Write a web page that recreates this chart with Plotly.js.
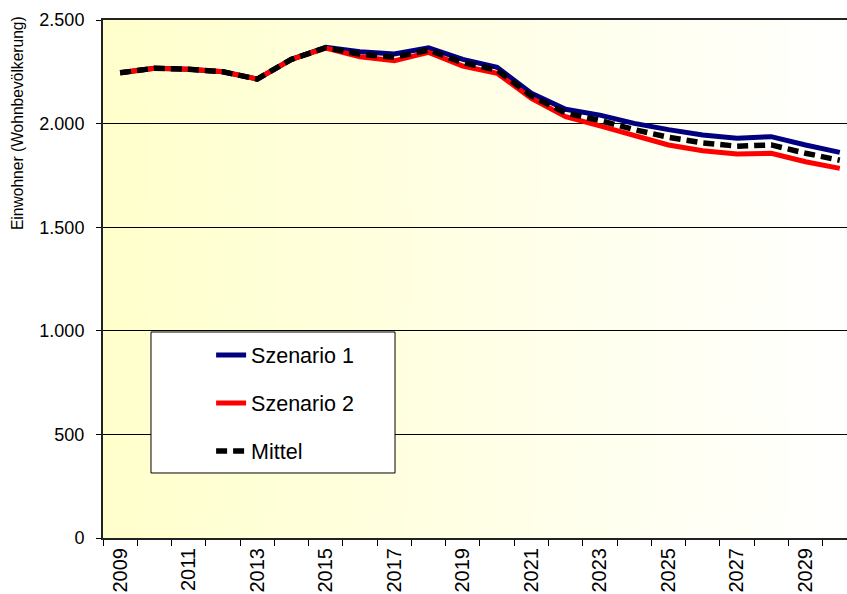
<!DOCTYPE html>
<html>
<head>
<meta charset="utf-8">
<script src="https://cdn.plot.ly/plotly-3.0.1.min.js"></script>
<style>
  html, body { margin: 0; padding: 0; background: #fff; }
  #chart { width: 847px; height: 594px; }
</style>
</head>
<body>
<div id="chart"></div>
<script>
// Einwohnerprognose 2009–2030
const years = [2009, 2010, 2011, 2012, 2013, 2014, 2015, 2016, 2017, 2018, 2019,
               2020, 2021, 2022, 2023, 2024, 2025, 2026, 2027, 2028, 2029, 2030];
const szenario1 = [2245, 2267, 2262, 2250, 2215, 2310, 2368, 2347, 2336, 2366, 2310,
                   2272, 2146, 2069, 2041, 2001, 1971, 1945, 1929, 1937, 1897, 1861];
const szenario2 = [2245, 2267, 2262, 2250, 2215, 2310, 2364, 2323, 2303, 2344, 2278,
                   2243, 2122, 2033, 1989, 1941, 1897, 1869, 1853, 1857, 1816, 1784];
const mittel    = [2245, 2267, 2262, 2250, 2215, 2310, 2366, 2335, 2320, 2355, 2294,
                   2258, 2134, 2051, 2015, 1971, 1934, 1907, 1891, 1897, 1857, 1823];

const xLabelYears = [2009, 2011, 2013, 2015, 2017, 2019, 2021, 2023, 2025, 2027, 2029];
const xLabelText  = ['2009', '2011', '2013', '2015', '2017', '2019', '2021', '2023', '2025', '2027', '2029'];
const yTickVals   = [0, 500, 1000, 1500, 2000, 2500];
const yTickText   = ['0', '500', '1.000', '1.500', '2.000', '2.500'];

const FONT = 'Arial, "Liberation Sans", sans-serif';

// horizontal pale-yellow to white wash for the plot area
function gradientURI() {
  const c = document.createElement('canvas');
  c.width = 400; c.height = 10;
  const g = c.getContext('2d');
  const grd = g.createLinearGradient(0, 0, 400, 0);
  grd.addColorStop(0, 'rgb(255,255,204)');
  grd.addColorStop(1, 'rgb(255,255,255)');
  g.fillStyle = grd;
  g.fillRect(0, 0, 400, 10);
  return c.toDataURL('image/png');
}

const traces = [
  { x: years, y: szenario1, name: 'Szenario 1', mode: 'lines', legendgroup: 'a',
    line: { color: '#000080', width: 5 } },
  { x: years, y: szenario2, name: 'Szenario 2', mode: 'lines', legendgroup: 'b',
    line: { color: '#FF0000', width: 5 } },
  { x: years, y: mittel, name: 'Mittel', mode: 'lines', legendgroup: 'c',
    line: { color: '#000000', width: 5.5, dash: '11px,6px' } }
];

const layout = {
  width: 847, height: 594,
  margin: { l: 103, r: 0, t: 20, b: 56, pad: 0 },
  paper_bgcolor: '#ffffff',
  plot_bgcolor: 'rgba(0,0,0,0)',
  font: { family: FONT, color: '#000', size: 18 },
  showlegend: true,
  legend: {
    x: 0.1453, y: 0.3927, xanchor: 'left', yanchor: 'top',
    bgcolor: 'rgba(0,0,0,0)', borderwidth: 0,
    font: { family: FONT, size: 21.5, color: '#000' },
    tracegroupgap: 17, traceorder: 'grouped'
  },
  xaxis: {
    type: 'linear',
    range: [2008.5, 2030.21],
    tickmode: 'array', tickvals: xLabelYears, ticktext: xLabelText,
    ticks: '', tickangle: -90,
    tickfont: { family: FONT, size: 20, color: '#000' },
    minor: { tickmode: 'linear', tick0: 2008.5, dtick: 1, ticks: 'outside',
             ticklen: 6, tickwidth: 1, tickcolor: '#000', showgrid: false },
    showgrid: false, zeroline: false,
    showline: true, mirror: true, linecolor: '#222', linewidth: 2,
    fixedrange: true
  },
  yaxis: {
    range: [0, 2500],
    tickmode: 'array', tickvals: yTickVals, ticktext: yTickText,
    ticks: 'outside', ticklen: 5, tickwidth: 1, tickcolor: '#000',
    ticklabelstandoff: 8,
    tickfont: { family: FONT, size: 18, color: '#000' },
    showgrid: true, gridcolor: '#000', gridwidth: 1,
    zeroline: false,
    showline: true, mirror: false, linecolor: '#222', linewidth: 2,
    fixedrange: true
  },
  images: [{
    source: gradientURI(), xref: 'paper', yref: 'paper',
    x: 0, y: 1, sizex: 1, sizey: 1, sizing: 'stretch',
    xanchor: 'left', yanchor: 'top', layer: 'below'
  }],
  shapes: [{
    type: 'rect', xref: 'paper', yref: 'paper',
    x0: 0.0645, x1: 0.3925, y0: 0.1255, y1: 0.3977,
    fillcolor: '#ffffff', line: { color: '#000', width: 1 }, layer: 'above'
  }],
  annotations: [{
    text: 'Einwohner (Wohnbevölkerung)',
    xref: 'paper', yref: 'paper', x: -86 / 744, y: 0.801,
    xanchor: 'center', yanchor: 'middle', textangle: -90, showarrow: false,
    font: { family: FONT, size: 15.6, color: '#000' }
  }]
};

Plotly.newPlot('chart', traces, layout, { displayModeBar: false, staticPlot: true });
</script>
</body>
</html>
